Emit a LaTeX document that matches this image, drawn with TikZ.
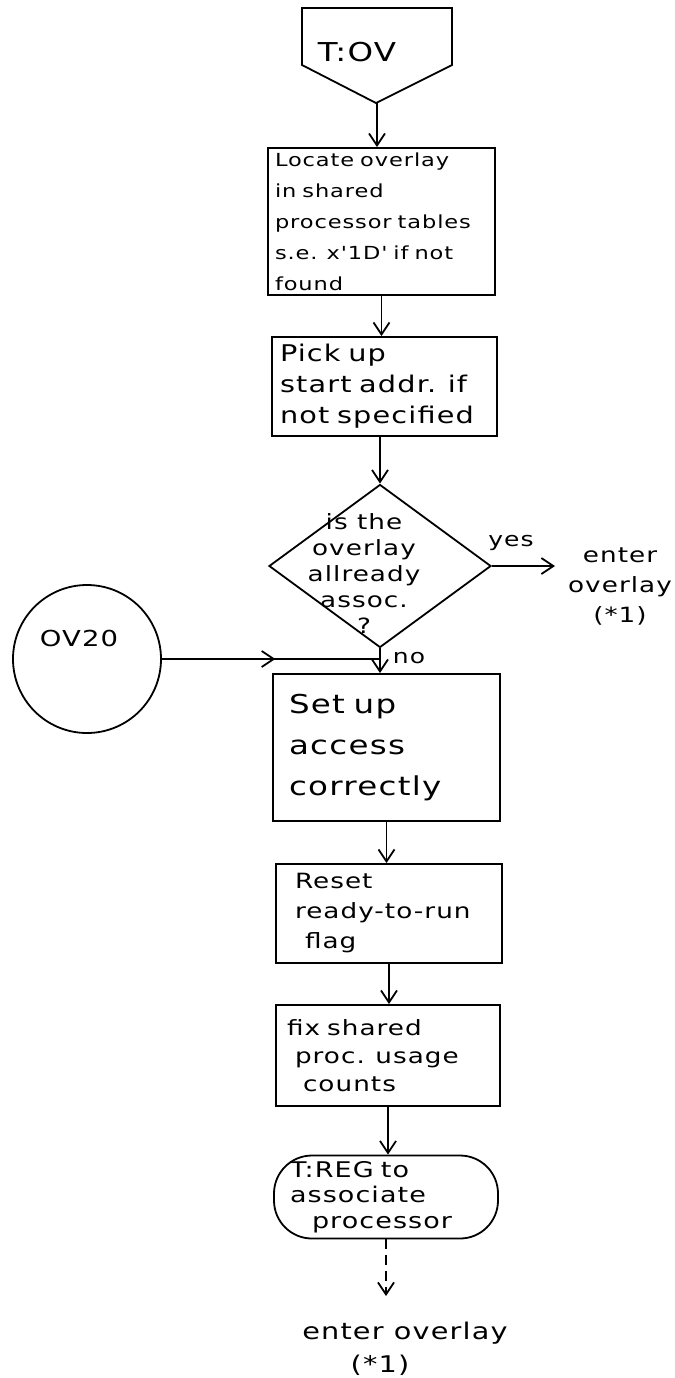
\documentclass[tikz,border=0pt]{standalone}
\usepackage{fontspec}
\setmainfont{DejaVu Sans}
% wide, airy lettering for the flowchart labels
\newfontfamily\handfont[FakeStretch=1.25,LetterSpace=5]{DejaVu Sans}
\usetikzlibrary{arrows.meta,shapes.geometric,decorations.markings}

\newcommand{\hsz}[2]{\handfont\fontsize{#1}{#2}\selectfont}

\tikzset{
  tip/.tip={Straight Barb[length=6pt,width=8pt,line width=0.9pt]},
  flow/.style={line width=0.9pt,-tip},
  procbox/.style={draw,line width=0.9pt,rectangle,align=left,inner ysep=0pt},
  termbox/.style={draw,line width=0.9pt,rectangle,rounded corners=19pt,align=left,inner ysep=0pt},
  decbox/.style={draw,line width=0.9pt,diamond,inner sep=0pt,
                 minimum width=111pt,minimum height=81.5pt},
  conn/.style={draw,line width=0.9pt,circle,inner sep=0pt,minimum size=74pt},
  label/.style={inner sep=0pt,align=center},
  midtip/.style={postaction={decorate,decoration={markings,
                 mark=at position 0.52 with {\arrow{tip}}}}}
}

\begin{document}
\begin{tikzpicture}[x=0.5pt,y=-0.5pt]
\useasboundingbox (0,0) rectangle (675,1378);

% entry connector T:OV
\draw[line width=0.9pt] (302,8) -- (452,8) -- (452,65) -- (376,103) -- (302,65) -- cycle;
\node[label,font=\hsz{13}{15}] (ovtext) at (357,52) {T:OV};
\coordinate (ovtip) at (377,103);

% processing steps
\node[procbox,minimum width=113.5pt,minimum height=73.5pt,inner xsep=3.5pt,
      text width=106.5pt,font=\hsz{9}{15.5}] (locate) at (381.5,221.5)
  {Locate overlay\\in shared\\processor tables\\s.e. x'1D' if not\\found};

\node[procbox,minimum width=112.5pt,minimum height=49.5pt,inner xsep=4pt,
      text width=104.5pt,font=\hsz{11.5}{15.5}] (pick) at (384.5,386.5)
  {Pick up\\start addr. if\\not specified};

\node[decbox] (dec) at (380,566) {};
\node[label,font=\hsz{10.5}{13}] (dectext) at (364,574)
  {is the\\overlay\\allready\\assoc.\\?};

\node[procbox,minimum width=113.5pt,minimum height=73.5pt,inner xsep=8pt,
      text width=97.5pt,font=\hsz{13}{20.5}] (setup) at (386.5,747.5)
  {Set up\\access\\correctly};

\node[procbox,minimum width=113pt,minimum height=49.5pt,inner xsep=9.5pt,
      text width=94pt,font=\hsz{10.5}{15}] (reset) at (389,913.5)
  {Reset\\ready-to-run\\\hspace*{5pt}flag};

\node[procbox,minimum width=112pt,minimum height=50.5pt,inner xsep=5.5pt,
      text width=101pt,font=\hsz{10.5}{14}] (fix) at (388,1055.5)
  {fix shared\\\hspace*{4pt}proc. usage\\\hspace*{8pt}counts};

\node[termbox,minimum width=112pt,minimum height=41.5pt,inner xsep=8pt,
      text width=96pt,font=\hsz{10.8}{12.8}] (treg) at (386,1197)
  {T:REG to\\associate\\\hspace*{11pt}processor};

% secondary entry OV20
\node[conn] (ov20) at (87,659) {};
\node[label,font=\hsz{11}{13}] (ov20text) at (79,638) {OV20};

% exits
\coordinate (yesend) at (555,566);
\node[label,font=\hsz{10.5}{15}] (enterA) at (620,586) {enter\\overlay\\(*1)};
\node[label,font=\hsz{10}{12}] (yeslbl) at (511,543) {yes};
\node[label,font=\hsz{10}{12}] (nolbl) at (409,658) {no};

\coordinate (dashend) at (386,1296);
\node[label,font=\hsz{11.5}{14}] (enterB) at (405,1333) {enter overlay};
\node[label,font=\hsz{11.5}{14}] (enterBref) at (380,1365) {(*1)};

% connectors (vertical drops from each step)
\draw[flow] (ovtip) -- (ovtip |- locate.north);
\draw[flow] (locate.south) -- (locate.south |- pick.north);
\draw[flow] (dec.north |- pick.south) -- (dec.north);
\draw[flow] (dec.east) -- (yesend);
\coordinate (join) at (dec.south |- ov20.east);
\draw[flow] (dec.south) -- (dec.south |- setup.north);
\draw[line width=0.9pt,midtip] (ov20.east) -- (join);
\draw[flow] (setup.south) -- (setup.south |- reset.north);
\draw[flow] (reset.south) -- (reset.south |- fix.north);
\draw[flow] (fix.south) -- (fix.south |- treg.north);
\draw[flow,dash pattern=on 5pt off 3pt] (treg.south) -- (dashend);
\end{tikzpicture}
\end{document}
